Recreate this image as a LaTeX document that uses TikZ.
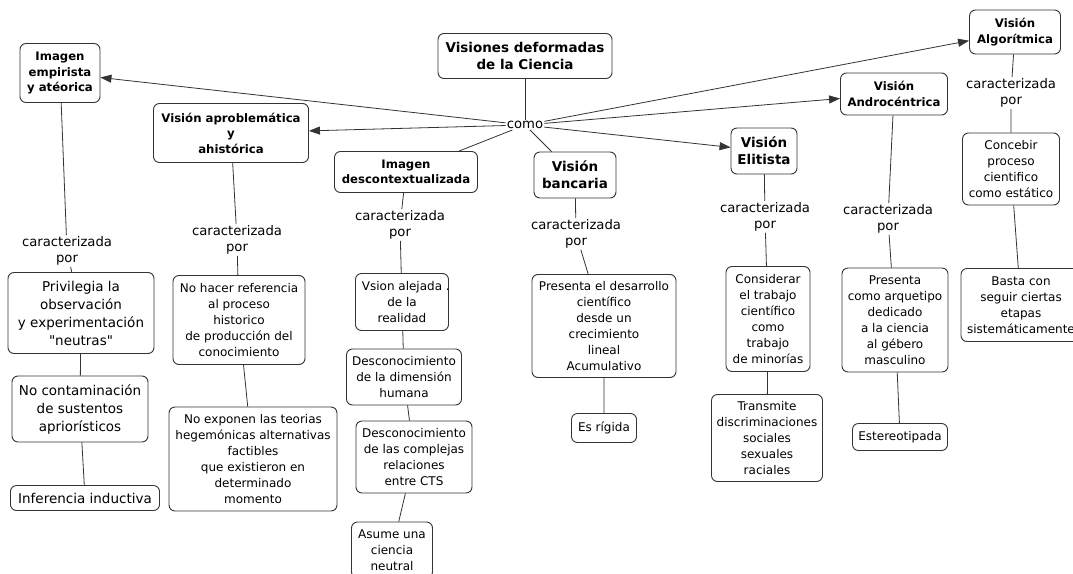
\documentclass[tikz,border=0pt]{standalone}
\usepackage{fontspec}
\setmainfont{DejaVu Sans}
\newfontfamily\rectas{DejaVu Sans}
\usetikzlibrary{arrows.meta}
\begin{document}
\begin{tikzpicture}[x=1pt, y=-1pt,
    caja/.style={draw=black!80, line width=0.9pt, rounded corners=6pt, fill=white, align=center, inner sep=2pt, font=\fontsize{12}{16}\selectfont},
    cajagrande/.style={caja, font=\fontsize{13.5}{18}\selectfont},
    titulo/.style={caja, font=\bfseries\fontsize{11.7}{15.5}\selectfont},
    grande/.style={caja, font=\bfseries\fontsize{13.5}{17}\selectfont},
    enlace/.style={align=center, inner sep=1pt, font=\fontsize{13.2}{16.5}\selectfont},
    linea/.style={draw=black!80, line width=0.8pt},
    flecha/.style={linea, -{Triangle[length=11pt,width=8pt]}}]
    \clip (0,0) rectangle (1073,573);
    % centro del mapa
    \node[grande, minimum width=174pt, minimum height=45pt] (visiones) at (525,56) {Visiones deformadas\\de la Ciencia};
    \node[enlace] (como) at (525,125) {como};
    % visiones
    \node[titulo, minimum width=80pt, minimum height=59pt] (empirista) at (60,73) {Imagen\\empirista\\y atéorica};
    \node[titulo, minimum width=155pt, minimum height=59pt] (aproblematica) at (231,133) {Visión aproblemática\\y\\ahistórica};
    \node[titulo, minimum width=143pt, minimum height=41pt] (descontext) at (406,172) {Imagen\\descontextualizada};
    \node[grande, minimum width=82pt, minimum height=46pt] (bancaria) at (575,175) {Visión\\bancaria};
    \node[grande, minimum width=66pt, minimum height=46pt] (elitista) at (764,151) {Visión\\Elitista};
    \node[titulo, minimum width=107pt, minimum height=42pt] (androcentrica) at (894,94) {Visión\\Androcéntrica};
    \node[titulo, minimum width=91pt, minimum height=44pt] (algoritmica) at (1015,32) {Visión\\Algorítmica};
    % enlaces
    \node[enlace] (carA) at (67,251) {caracterizada\\por};
    \node[enlace] (carB) at (237,240) {caracterizada\\por};
    \node[enlace] (carC) at (400,225) {caracterizada\\por};
    \node[enlace] (carD) at (576,234) {caracterizada\\por};
    \node[enlace] (carE) at (765,217) {caracterizada\\por};
    \node[enlace] (carF) at (888,219) {caracterizada\\por};
    \node[enlace] (carG) at (1011,93) {caracterizada\\por};
    % caracteristicas
    \node[cajagrande, minimum width=146pt, minimum height=81pt] (privilegia) at (81,313) {Privilegia la\\observación\\y experimentación\\{\rectas"neutras"}};
    \node[cajagrande, minimum width=136pt, minimum height=66pt] (contaminacion) at (80,409) {No contaminación\\de sustentos\\apriorísticos};
    \node[cajagrande, minimum width=149pt, minimum height=25pt] (inferencia) at (85,498) {Inferencia inductiva};
    \node[caja, minimum width=132pt, minimum height=89pt] (referencia) at (239,320) {No hacer referencia\\al proceso\\historico\\de producción del\\conocimiento};
    \node[caja, minimum width=168pt, minimum height=104pt] (teorias) at (253,459) {No exponen las teorias\\hegemónicas alternativas\\factibles\\que existieron en\\determinado\\momento};
    \node[caja, minimum width=93pt, minimum height=57pt] (alejada) at (402,302) {Vsion alejada\rlap{ .}\\de la\\realidad};
    \node[caja, minimum width=115pt, minimum height=56pt] (dimension) at (404,377) {Desconocimiento\\de la dimensión\\humana};
    \node[caja, minimum width=116pt, minimum height=72pt] (cts) at (414,457) {Desconocimiento\\de las complejas\\relaciones\\entre CTS};
    \node[caja, minimum width=81pt, minimum height=56pt] (neutral) at (392,550) {Asume una\\ciencia\\neutral};
    \node[caja, minimum width=144pt, minimum height=103pt] (desarrollo) at (604,326) {Presenta el desarrollo\\científico\\desde un\\crecimiento\\lineal\\Acumulativo};
    \node[caja, minimum width=65pt, minimum height=29pt] (rigida) at (604,428) {Es rígida};
    \node[caja, minimum width=84pt, minimum height=105pt] (minorias) at (768,319) {Considerar\\el trabajo\\científico\\como\\trabajo\\de minorías};
    \node[caja, minimum width=111pt, minimum height=87pt] (transmite) at (767,438) {Transmite\\discriminaciones\\sociales\\sexuales\\raciales};
    \node[caja, minimum width=106pt, minimum height=104pt] (arquetipo) at (895,320) {Presenta\\como arquetipo\\dedicado\\a la ciencia\\al gébero\\masculino};
    \node[caja, minimum width=95pt, minimum height=27pt] (estereotipada) at (900,437) {Estereotipada};
    \node[caja, minimum width=97pt, minimum height=72pt] (concebir) at (1011,169) {Concebir\\proceso\\cientifico\\como estático};
    \node[caja, minimum width=120pt, minimum height=73pt] (etapas) at (1021,305) {Basta con\\seguir ciertas\\etapas\\sistemáticamente};
    % conectores
    \draw[linea] (visiones) -- (como);
    \foreach \v in {empirista, aproblematica, elitista, androcentrica, algoritmica}
        \draw[flecha] (como) -- (\v);
    \draw[linea] (como) -- (descontext);
    \draw[linea] (como) -- (bancaria);
    \draw[linea] (empirista) -- (carA) -- (privilegia) -- (contaminacion) -- (inferencia);
    \draw[linea] (aproblematica) -- (carB) -- (referencia) -- (teorias);
    \draw[linea] (descontext) -- (carC) -- (alejada) -- (dimension) -- (cts) -- (neutral);
    \draw[linea] (bancaria) -- (carD) -- (desarrollo) -- (rigida);
    \draw[linea] (elitista) -- (carE) -- (minorias) -- (transmite);
    \draw[linea] (androcentrica) -- (carF) -- (arquetipo) -- (estereotipada);
    \draw[linea] (algoritmica) -- (carG) -- (concebir) -- (etapas);
\end{tikzpicture}
\end{document}
